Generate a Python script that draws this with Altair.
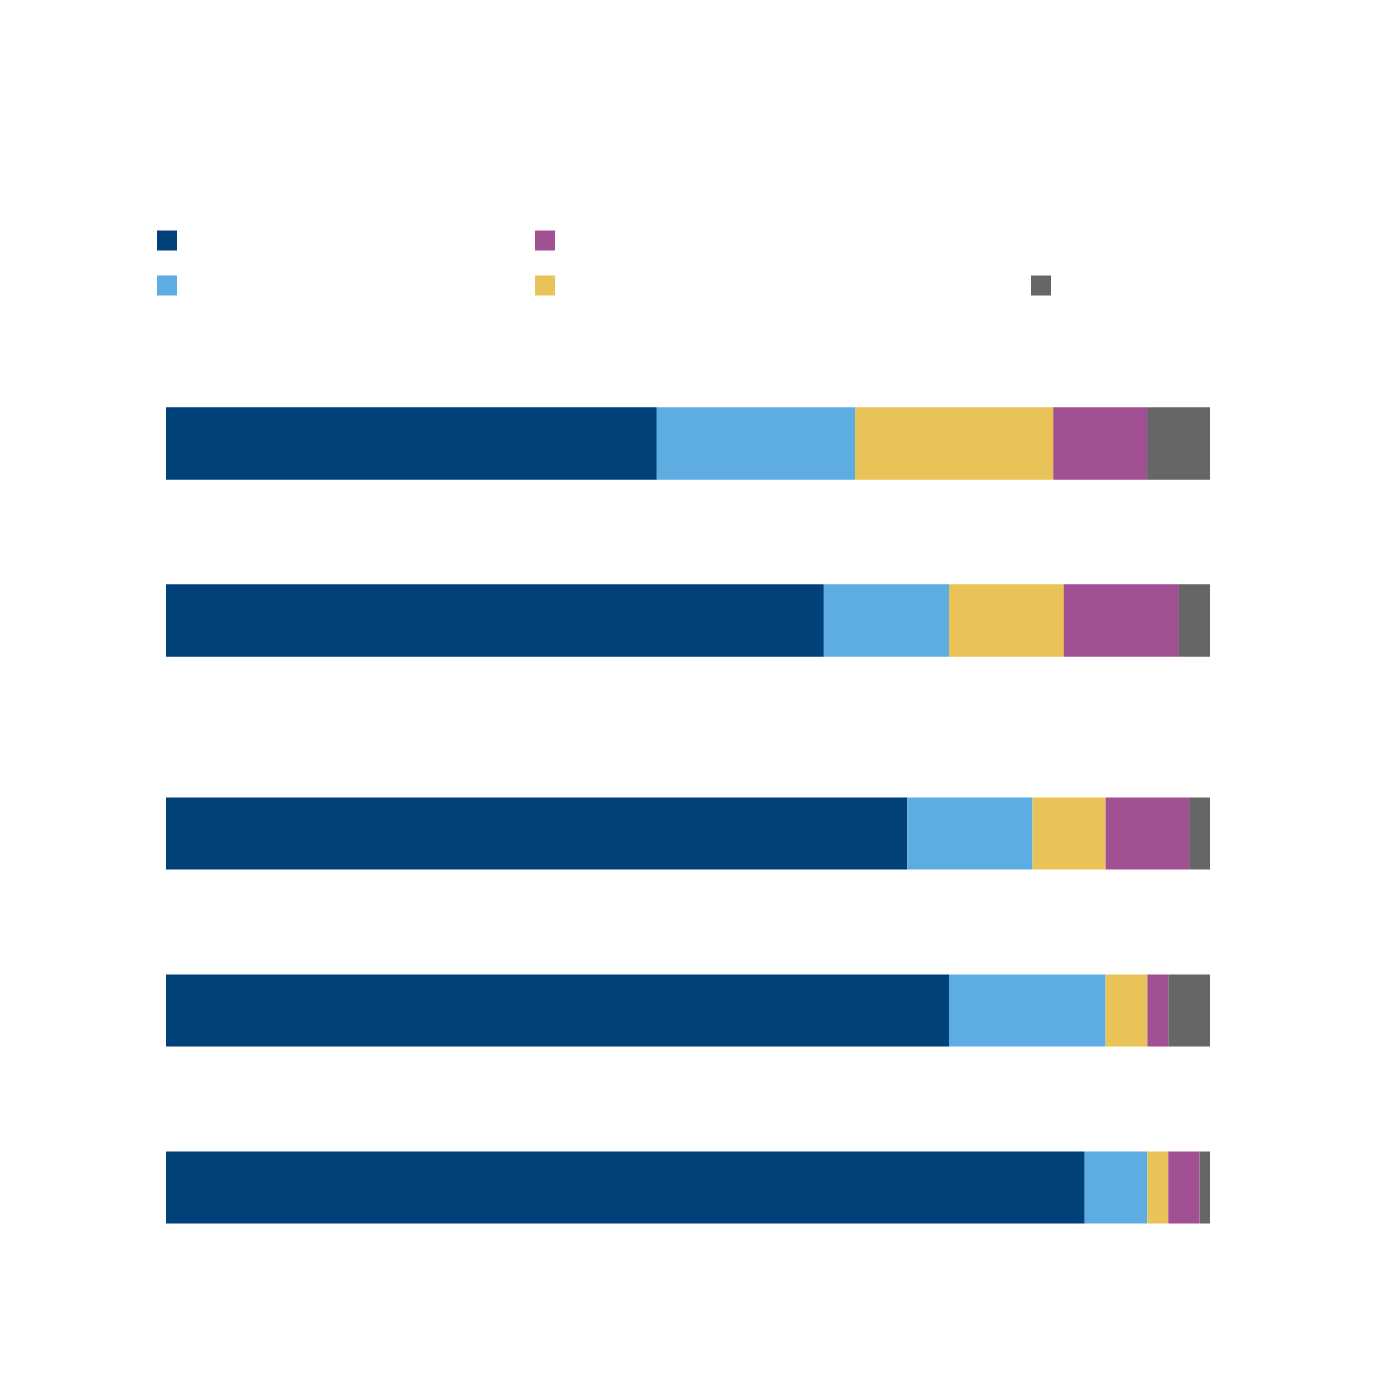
import altair as alt
import pandas as pd

# ---- data ----
rows_top = ["Row 1", "Row 2"]
rows_bottom = ["Row 3", "Row 4", "Row 5"]
series = ["Series 1", "Series 2", "Series 3", "Series 4", "Series 5"]
colors = ["#00417A", "#5DADE2", "#E9C357", "#A15193", "#666666"]

s1 = [47, 63, 71, 75, 88]
s2 = [19, 12, 12, 15, 6]
s3 = [19, 11, 7, 4, 2]
s4 = [9, 11, 8, 2, 3]
s5 = [6, 3, 2, 4, 1]

values = [s1, s2, s3, s4, s5]
all_rows = rows_top + rows_bottom
records = []
for si, name in enumerate(series):
    for ri, row in enumerate(all_rows):
        records.append({
            "row": row,
            "series": name,
            "idx": si,
            "value": values[si][ri],
            "panel": "top" if row in rows_top else "bottom",
        })
df = pd.DataFrame(records)

STEP = 177
BAR = 72
pi = (STEP - BAR) / STEP
po = pi / 2


def x_enc():
    return alt.X("value:Q", stack="zero",
                 scale=alt.Scale(domain=[0, 100], nice=False, padding=9),
                 axis=None)


def y_enc(rows):
    return alt.Y("row:N", sort=rows, axis=None,
                 scale=alt.Scale(paddingInner=pi, paddingOuter=po))


def bars(data, rows, color):
    return alt.Chart(data).mark_bar().encode(
        x=x_enc(),
        y=y_enc(rows),
        color=color,
        order=alt.Order("idx:Q"),
    )


top_df = df[df["panel"] == "top"]
bottom_df = df[df["panel"] == "bottom"]

main_color = alt.Color("series:N", scale=alt.Scale(domain=series, range=colors), legend=None)

# legend entries fill column by column: (dark blue, light blue) then (purple, yellow)
leg1_domain = [series[0], series[1], series[3], series[2]]
leg1_range = [colors[0], colors[1], colors[3], colors[2]]
leg1 = bars(top_df, rows_top, alt.Color(
    "series:N",
    scale=alt.Scale(domain=leg1_domain, range=leg1_range),
    legend=alt.Legend(orient="none", legendX=0, legendY=-124.5, columns=2,
                      columnPadding=358, rowPadding=25, symbolType="square",
                      symbolSize=400, symbolStrokeWidth=0, labelExpr="''",
                      labelOffset=0, title=None),
))
leg2 = bars(top_df, rows_top, alt.Color(
    "series:N",
    scale=alt.Scale(domain=[series[4]], range=[colors[4]]),
    legend=alt.Legend(orient="none", legendX=874, legendY=-79.5,
                      symbolType="square", symbolSize=400, symbolStrokeWidth=0,
                      labelExpr="''", labelOffset=0, title=None),
))
main_top = bars(top_df, rows_top, main_color)

top = alt.layer(leg1, leg2, main_top).resolve_scale(color="independent").properties(
    width=1062, height=alt.Step(STEP))
bottom = bars(bottom_df, rows_bottom, main_color).properties(
    width=1062, height=alt.Step(STEP))

chart = alt.vconcat(top, bottom, spacing=36).properties(
    padding={"left": 149, "top": 222, "right": 20, "bottom": 20},
    background="white",
).configure_view(stroke=None)

chart.save("out.html", embed_options={"renderer": "svg", "actions": False})
